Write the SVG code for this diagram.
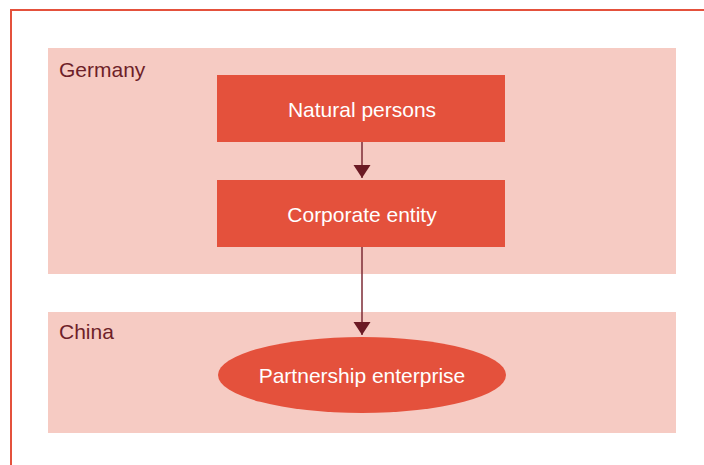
<svg xmlns="http://www.w3.org/2000/svg" width="704" height="465" viewBox="0 0 704 465">
  <style>
    .region { fill: #f6cbc3; }
    .region-label { font-family: "Liberation Sans", Arial, sans-serif; font-size: 21px; fill: #6e1f29; }
    .box { fill: #e4513c; }
    .box-label { font-family: "Liberation Sans", Arial, sans-serif; font-size: 21px; fill: #ffffff; text-anchor: middle; }
    .conn { stroke: #7d2b36; stroke-width: 1.5; fill: none; }
  </style>
  <defs>
    <marker id="arrow" markerUnits="userSpaceOnUse" markerWidth="14" markerHeight="18" refX="13" refY="8.5" orient="auto">
      <path d="M0,0 L13,8.5 L0,17 Z" fill="#6b1a24"/>
    </marker>
  </defs>
  <rect width="704" height="465" fill="#ffffff"/>
  <!-- outer frame: open on right and bottom -->
  <path d="M11,465 L11,10 L704,10" fill="none" stroke="#e4513c" stroke-width="2"/>

  <g id="germany">
    <rect class="region" x="48" y="48" width="628" height="226"/>
    <text class="region-label" x="59" y="77">Germany</text>
  </g>
  <g id="china">
    <rect class="region" x="48" y="312" width="628" height="121"/>
    <text class="region-label" x="59" y="339">China</text>
  </g>

  <g id="natural-persons">
    <rect class="box" x="217" y="75" width="288" height="67"/>
    <text class="box-label" x="362" y="117">Natural persons</text>
  </g>
  <g id="corporate-entity">
    <rect class="box" x="217" y="180" width="288" height="67"/>
    <text class="box-label" x="362" y="222">Corporate entity</text>
  </g>
  <g id="partnership-enterprise">
    <ellipse class="box" cx="362" cy="375" rx="144" ry="38"/>
    <text class="box-label" x="362" y="383">Partnership enterprise</text>
  </g>

  <g id="connectors">
    <path class="conn" d="M362,142 L362,178" marker-end="url(#arrow)"/>
    <path class="conn" d="M362,247 L362,335" marker-end="url(#arrow)"/>
  </g>
</svg>
